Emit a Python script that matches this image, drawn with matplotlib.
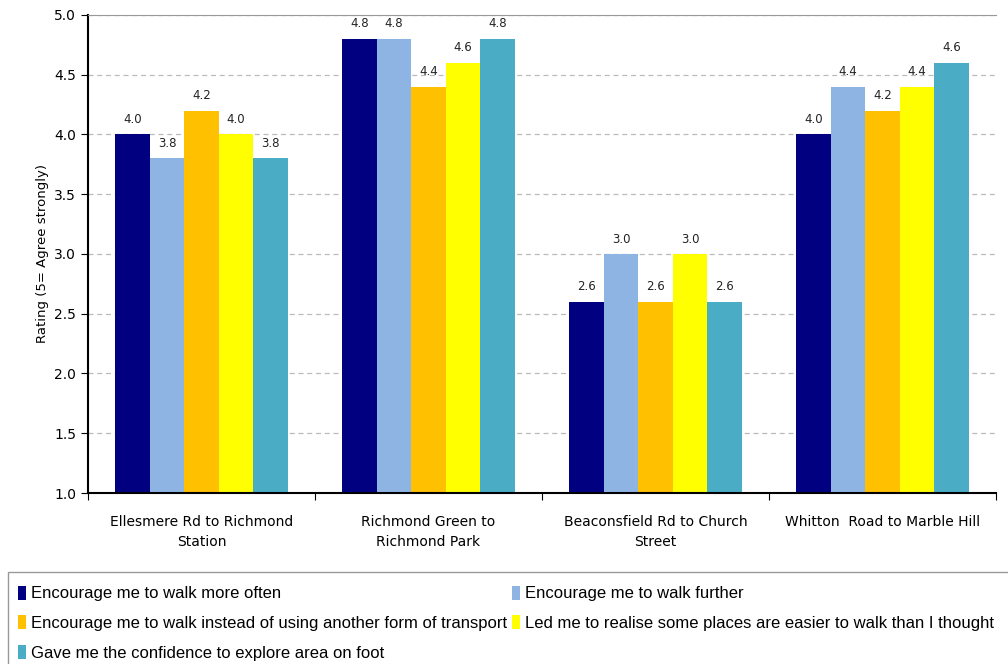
import matplotlib
matplotlib.use('Agg')
import matplotlib.pyplot as plt
from matplotlib.patches import Rectangle
import numpy as np

routes = ['Ellesmere Rd to Richmond\nStation', 'Richmond Green to\nRichmond Park',
          'Beaconsfield Rd to Church\nStreet', 'Whitton  Road to Marble Hill']
series_names = [
    'Encourage me to walk more often',
    'Encourage me to walk further',
    'Encourage me to walk instead of using another form of transport',
    'Led me to realise some places are easier to walk than I thought',
    'Gave me the confidence to explore area on foot',
]
more_often = [4.0, 4.8, 2.6, 4.0]
further = [3.8, 4.8, 3.0, 4.4]
instead = [4.2, 4.4, 2.6, 4.2]
realise = [4.0, 4.6, 3.0, 4.4]
confidence = [3.8, 4.8, 2.6, 4.6]
colors = ['#000080', '#8EB4E3', '#FFC000', '#FFFF00', '#4BACC6']

fig = plt.figure(figsize=(10.08, 6.64), dpi=100)
ax = fig.add_axes([0.0873, 0.2575, 0.9007, 0.72])

x = np.arange(len(routes))
width = 0.152
all_series = [more_often, further, instead, realise, confidence]
handles = []
for i, (vals, c, name) in enumerate(zip(all_series, colors, series_names)):
    pos = x + (i - 2) * width
    bars = ax.bar(pos, np.array(vals) - 1.0, width, bottom=1.0, color=c, label=name)
    handles.append(bars)
    for p, v in zip(pos, vals):
        ax.text(p, v + 0.07, f'{v:.1f}', ha='center', va='bottom', fontsize=8.5, color='#222222')

ax.set_xlim(-0.5, len(routes) - 0.5)
ax.set_ylim(1.0, 5.0)
ax.set_yticks(np.arange(1.0, 5.01, 0.5))
ax.set_yticklabels([f'{t:.1f}' for t in np.arange(1.0, 5.01, 0.5)], fontsize=10)
ax.set_xticks(np.arange(-0.5, len(routes), 1.0))
ax.set_xticklabels([])
ax.set_xticks(x, minor=True)
ax.set_xticklabels(routes, minor=True, fontsize=10, linespacing=1.5)
ax.tick_params(axis='x', which='minor', length=0, pad=16)
ax.tick_params(axis='x', which='major', length=5, direction='out')
ax.tick_params(axis='y', length=5, direction='out')
ax.set_ylabel('Rating (5= Agree strongly)', fontsize=9.5)

ax.yaxis.grid(True, linestyle=(0, (4, 3)), color='#BBBBBB', linewidth=0.9)
ax.set_axisbelow(True)
ax.spines['right'].set_visible(False)
ax.spines['top'].set_color('#999999')
ax.spines['left'].set_linewidth(1.5)
ax.spines['bottom'].set_linewidth(1.5)

# legend frame runs off the right and bottom edges, as in the source
fig.patches.append(Rectangle((8 / 1008, -0.05), 1.05, 1.05 - 572 / 664,
                             transform=fig.transFigure, fill=False,
                             edgecolor='#999999', linewidth=1.0))

# row-major order for a 2-column legend
order = [0, 2, 4, 1, 3]
fig.legend(handles=[handles[k] for k in order], labels=[series_names[k] for k in order],
           ncol=2, loc='upper left', bbox_to_anchor=(6 / 1008, 1 - 574 / 664),
           frameon=False, handlelength=0.5, handleheight=0.9,
           handletextpad=0.3, columnspacing=0.3, labelspacing=0.85,
           borderpad=0.2, prop={'family': ['Liberation Sans', 'DejaVu Sans'], 'size': 12})

fig.savefig('out.png', dpi=100)
